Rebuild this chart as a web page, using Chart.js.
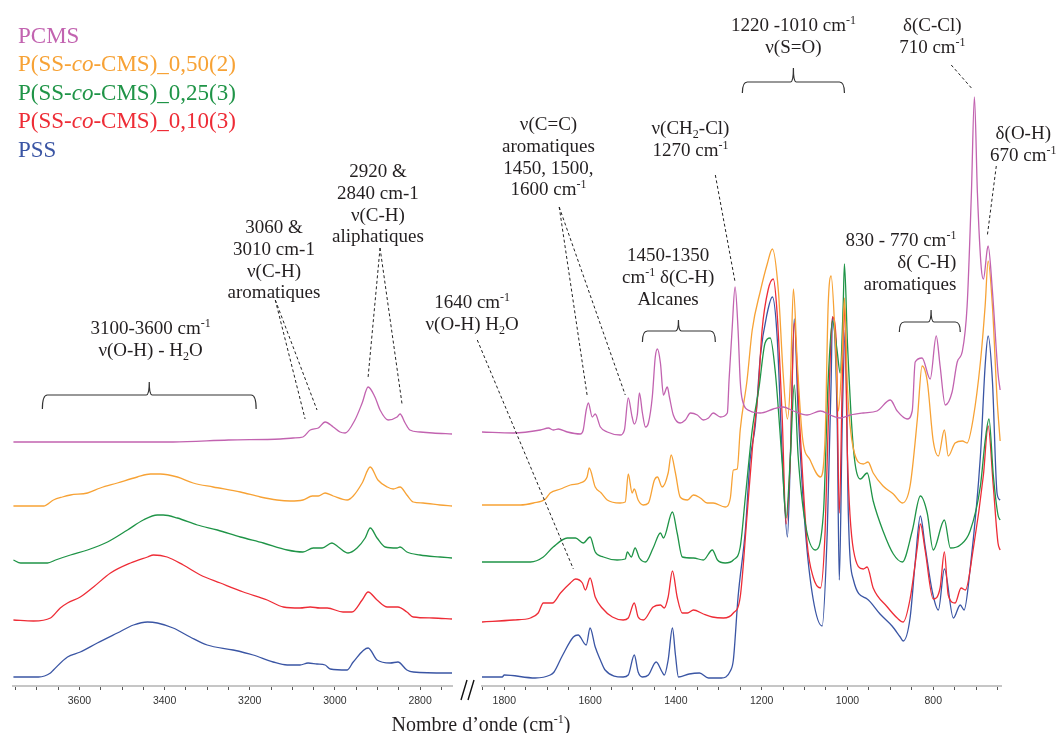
<!DOCTYPE html>
<html><head><meta charset="utf-8">
<script src="https://cdn.jsdelivr.net/npm/chart.js@4.4.0/dist/chart.umd.min.js"></script>
<style>html,body{margin:0;padding:0;background:#fff;}#wrap{position:relative;width:1056px;height:733px;}canvas{position:absolute;left:0;top:0;}</style>
</head><body><div id="wrap"><canvas id="cL" width="1056" height="733"></canvas><canvas id="cR" width="1056" height="733"></canvas></div>
<script>
// ---------- data ----------
const seriesNames = ['PCMS','P(SS-*co*-CMS)_0,50(2)','P(SS-*co*-CMS)_0,25(3)','P(SS-*co*-CMS)_0,10(3)','PSS'];
const seriesColors = ['#c263b0','#f7a235','#1f9447','#ee2c36','#3a55a4'];
const leftTickLabels = [3600,3400,3200,3000,2800];
const rightTickLabels = [1800,1600,1400,1200,1000,800];
const minorStep = 50;
const leftRange = [2725, 3756];
const rightRange = [642, 1852];
const yRange = [0, 6.86];
const xTitle = "Nombre d\u2019onde (cm^{-1})";

// wavenumber (cm-1), stacked absorbance (a.u.)
const pcmsL = [[3755,2.44],[3600,2.44],[3380,2.44],[3250,2.46],[3128,2.47],[3098,2.48],[3075,2.49],[3058,2.56],[3039,2.58],[3023,2.64],[3004,2.59],[2988,2.54],[2976,2.53],[2953,2.66],[2936,2.83],[2922,2.99],[2906,2.89],[2894,2.76],[2875,2.66],[2854,2.69],[2847,2.72],[2835,2.63],[2824,2.56],[2800,2.54],[2770,2.53],[2725,2.52]];
const orangeL = [[3755,1.80],[3684,1.80],[3661,1.86],[3640,1.89],[3621,1.91],[3581,1.93],[3551,1.98],[3511,2.03],[3464,2.09],[3433,2.12],[3410,2.12],[3370,2.09],[3333,2.03],[3286,1.99],[3222,1.94],[3175,1.89],[3136,1.86],[3105,1.85],[3075,1.86],[3053,1.90],[3039,1.90],[3023,1.93],[3004,1.90],[2971,1.86],[2957,1.90],[2936,2.03],[2917,2.19],[2899,2.06],[2877,1.99],[2863,1.97],[2847,1.99],[2831,1.91],[2816,1.84],[2793,1.83],[2753,1.81],[2725,1.80]];
const greenL = [[3755,1.26],[3738,1.23],[3675,1.23],[3656,1.26],[3621,1.31],[3581,1.36],[3534,1.44],[3487,1.56],[3450,1.66],[3417,1.71],[3403,1.71],[3370,1.68],[3323,1.61],[3276,1.56],[3222,1.49],[3168,1.43],[3112,1.36],[3075,1.34],[3051,1.38],[3030,1.38],[3007,1.43],[2992,1.39],[2969,1.33],[2948,1.38],[2929,1.48],[2917,1.58],[2901,1.48],[2882,1.39],[2854,1.38],[2847,1.39],[2831,1.34],[2800,1.31],[2753,1.29],[2725,1.28]];
const redL = [[3755,0.66],[3708,0.65],[3668,0.68],[3645,0.78],[3628,0.83],[3598,0.89],[3567,0.99],[3527,1.13],[3480,1.23],[3440,1.29],[3426,1.31],[3394,1.29],[3356,1.21],[3316,1.11],[3269,1.03],[3215,0.94],[3159,0.86],[3121,0.79],[3082,0.78],[3058,0.79],[3035,0.78],[3018,0.78],[2981,0.74],[2960,0.74],[2936,0.86],[2922,0.94],[2901,0.86],[2877,0.79],[2852,0.79],[2831,0.74],[2816,0.69],[2770,0.68],[2725,0.67]];
const blueL = [[3755,0.09],[3696,0.09],[3668,0.13],[3661,0.16],[3628,0.29],[3598,0.34],[3558,0.43],[3511,0.53],[3473,0.61],[3440,0.64],[3417,0.63],[3380,0.58],[3340,0.49],[3300,0.41],[3239,0.36],[3192,0.31],[3145,0.24],[3112,0.21],[3082,0.21],[3063,0.23],[3042,0.22],[3023,0.21],[3011,0.17],[2971,0.16],[2957,0.24],[2922,0.38],[2901,0.26],[2870,0.23],[2852,0.24],[2831,0.16],[2816,0.14],[2737,0.13],[2725,0.13]];

const pcmsR = [[1852,2.54],[1779,2.53],[1716,2.56],[1697,2.58],[1686,2.56],[1674,2.57],[1653,2.54],[1623,2.52],[1616,2.56],[1609,2.76],[1604,2.83],[1595,2.69],[1588,2.72],[1576,2.59],[1560,2.54],[1530,2.51],[1520,2.56],[1511,2.88],[1502,2.69],[1497,2.62],[1490,2.71],[1485,2.93],[1478,2.73],[1471,2.59],[1464,2.63],[1455,2.89],[1448,3.29],[1443,3.37],[1436,3.23],[1429,2.91],[1420,2.99],[1415,2.89],[1406,2.71],[1390,2.63],[1378,2.66],[1366,2.73],[1350,2.71],[1336,2.66],[1324,2.68],[1313,2.73],[1296,2.69],[1280,2.73],[1276,3.06],[1269,3.56],[1262,3.99],[1255,3.56],[1250,3.05],[1245,2.86],[1227,2.75],[1203,2.73],[1173,2.77],[1150,2.79],[1126,2.75],[1094,2.71],[1063,2.75],[1040,2.71],[1017,2.68],[993,2.71],[963,2.73],[931,2.75],[900,2.86],[884,2.75],[861,2.67],[849,2.75],[842,3.24],[826,3.28],[807,3.07],[793,3.50],[784,3.20],[772,2.81],[756,2.94],[744,3.24],[732,3.35],[721,3.80],[711,4.93],[704,5.89],[697,4.93],[688,4.18],[683,4.07],[674,4.37],[672,4.40],[662,3.95],[649,3.13],[644,2.96]];
const orangeR = [[1852,1.81],[1763,1.81],[1732,1.83],[1704,1.87],[1693,1.93],[1669,1.97],[1646,2.01],[1623,2.03],[1607,2.09],[1602,2.18],[1588,1.99],[1574,1.93],[1560,1.86],[1530,1.83],[1518,1.84],[1511,2.12],[1502,1.93],[1497,1.97],[1488,1.86],[1476,1.81],[1464,1.83],[1450,2.06],[1443,2.09],[1432,1.99],[1418,2.13],[1411,2.31],[1401,2.13],[1390,1.89],[1373,1.86],[1359,1.91],[1343,1.88],[1327,1.83],[1313,1.83],[1285,1.79],[1273,1.88],[1266,2.16],[1257,2.17],[1250,2.56],[1234,3.06],[1222,3.56],[1203,3.95],[1187,4.22],[1175,4.37],[1161,3.95],[1150,3.13],[1140,2.67],[1133,3.05],[1126,3.97],[1117,3.24],[1105,2.49],[1087,2.26],[1063,2.09],[1052,2.49],[1045,3.80],[1038,4.10],[1028,3.43],[1021,2.75],[1012,3.35],[1007,3.88],[1000,2.98],[986,2.37],[963,2.22],[952,2.24],[940,2.13],[917,2.00],[893,1.92],[872,1.83],[854,2.00],[837,2.67],[826,3.20],[814,3.05],[800,2.45],[788,2.30],[774,2.56],[765,2.30],[749,2.43],[732,2.45],[721,2.43],[707,2.67],[690,3.24],[679,3.80],[672,4.25],[662,3.80],[651,2.86],[644,2.45]];
const greenR = [[1852,1.24],[1739,1.24],[1709,1.29],[1686,1.39],[1653,1.48],[1634,1.48],[1616,1.43],[1600,1.49],[1588,1.34],[1569,1.29],[1537,1.26],[1518,1.27],[1513,1.34],[1504,1.29],[1495,1.38],[1485,1.28],[1471,1.24],[1453,1.38],[1436,1.53],[1429,1.48],[1408,1.74],[1397,1.53],[1385,1.29],[1359,1.28],[1336,1.26],[1315,1.36],[1303,1.26],[1285,1.23],[1266,1.26],[1250,1.39],[1238,1.89],[1222,2.56],[1206,2.99],[1192,3.43],[1180,3.48],[1168,3.13],[1152,2.22],[1143,1.68],[1133,2.30],[1124,3.01],[1115,2.30],[1098,1.62],[1075,1.36],[1056,1.73],[1045,3.05],[1035,3.65],[1024,3.35],[1017,3.13],[1010,3.80],[1007,4.22],[1000,3.43],[986,2.37],[970,2.07],[954,2.13],[940,1.85],[917,1.55],[893,1.32],[872,1.24],[849,1.55],[830,1.90],[814,1.73],[800,1.36],[774,1.66],[760,1.38],[737,1.41],[714,1.55],[690,2.00],[679,2.45],[670,2.67],[660,2.11],[649,1.71],[644,1.66]];
const redR = [[1852,0.64],[1779,0.66],[1739,0.68],[1721,0.73],[1709,0.83],[1688,0.83],[1669,0.93],[1646,1.03],[1634,1.07],[1618,1.03],[1611,0.96],[1600,1.08],[1588,0.89],[1572,0.78],[1548,0.69],[1523,0.66],[1511,0.68],[1497,0.83],[1488,0.69],[1476,0.66],[1453,0.79],[1436,0.81],[1427,0.78],[1418,0.89],[1408,1.15],[1397,0.89],[1385,0.73],[1373,0.73],[1359,0.76],[1336,0.72],[1315,0.69],[1289,0.68],[1266,0.73],[1250,0.89],[1234,1.71],[1220,2.46],[1208,2.96],[1199,3.56],[1185,3.96],[1173,4.07],[1164,3.73],[1152,2.67],[1143,1.62],[1133,2.30],[1124,3.63],[1112,2.67],[1094,1.43],[1080,1.09],[1063,0.98],[1052,1.55],[1042,3.05],[1035,3.69],[1026,3.43],[1019,1.73],[1012,3.05],[1007,3.84],[1000,2.30],[986,1.36],[963,1.17],[954,1.19],[940,0.98],[907,0.79],[884,0.68],[870,0.64],[854,0.87],[837,1.39],[830,1.62],[819,1.36],[800,0.87],[784,0.98],[774,1.34],[765,0.91],[749,0.83],[735,0.98],[725,0.96],[707,1.36],[683,2.11],[672,2.60],[660,2.00],[649,1.43],[644,1.36]];
const blueR = [[1852,0.09],[1805,0.09],[1800,0.11],[1728,0.08],[1693,0.11],[1684,0.14],[1665,0.30],[1639,0.49],[1628,0.51],[1609,0.41],[1600,0.58],[1588,0.39],[1576,0.26],[1565,0.16],[1523,0.09],[1511,0.11],[1497,0.31],[1488,0.14],[1478,0.09],[1464,0.11],[1446,0.24],[1432,0.14],[1427,0.11],[1418,0.26],[1408,0.58],[1401,0.31],[1394,0.09],[1369,0.12],[1345,0.13],[1324,0.08],[1294,0.08],[1273,0.15],[1266,0.26],[1255,0.89],[1238,1.56],[1227,2.26],[1215,2.60],[1203,3.30],[1187,3.73],[1175,3.89],[1164,3.50],[1152,2.30],[1140,1.49],[1133,2.30],[1124,3.67],[1115,2.75],[1098,1.55],[1080,0.87],[1059,0.60],[1047,1.55],[1038,3.05],[1035,3.69],[1024,2.67],[1019,1.06],[1012,2.67],[1005,3.56],[998,1.73],[986,1.06],[954,0.87],[924,0.72],[896,0.60],[877,0.49],[870,0.45],[854,0.68],[842,1.24],[830,1.70],[819,1.40],[802,0.94],[788,0.76],[774,1.17],[753,0.68],[737,0.81],[728,0.76],[714,1.17],[690,2.30],[679,3.20],[672,3.50],[662,3.05],[651,1.92],[644,1.86]];

// annotations (cm-1, a.u.)
const notes = [
 {p:'L', x:3433, y:3.58, lines:['3100-3600 cm^{-1}','\u03bd(O-H) - H~{2}O']},
 {p:'L', x:3143, y:4.59, lines:['3060 &','3010 cm-1','\u03bd(C-H)','aromatiques']},
 {p:'L', x:2899, y:5.15, lines:['2920 &','2840 cm-1','\u03bd(C-H)','aliphatiques']},
 {p:'R', x:1875, y:3.84, lines:['1640 cm^{-1}','\u03bd(O-H) H~{2}O']},
 {p:'R', x:1697, y:5.62, lines:['\u03bd(C=C)','aromatiques','1450, 1500,','1600 cm^{-1}']},
 {p:'R', x:1366, y:5.58, lines:['\u03bd(CH~{2}-Cl)','1270 cm^{-1}']},
 {p:'R', x:1418, y:4.31, lines:['1450-1350','cm^{-1} \u03b4(C-H)','Alcanes']},
 {p:'R', x:1126, y:6.61, lines:['1220 -1010 cm^{-1}','\u03bd(S=O)']},
 {p:'R', x:802, y:6.61, lines:['\u03b4(C-Cl)','710 cm^{-1}']},
 {p:'R', x:590, y:5.53, lines:['\u03b4(O-H)','670 cm^{-1}']},
 {p:'R', x:746, y:4.46, lines:['830 - 770 cm^{-1}','\u03b4( C-H)','aromatiques'], align:'right'}
];
const brackets = [
 {p:'L', x1:3687, x2:3185, xt:3436, yH:2.91, yE:2.77, yT:3.04},
 {p:'R', x1:1478, x2:1308, xt:1394, yH:3.55, yE:3.44, yT:3.66},
 {p:'R', x1:1245, x2:1007, xt:1126, yH:6.04, yE:5.93, yT:6.18},
 {p:'R', x1:879, x2:737, xt:805, yH:3.64, yE:3.54, yT:3.76}
];
const leaders = [
 {p:'L', a:[3140,3.86], b:[3070,2.67]}, {p:'L', a:[3140,3.86], b:[3042,2.76]},
 {p:'L', a:[2894,4.38], b:[2922,3.09]}, {p:'L', a:[2894,4.38], b:[2842,2.81]},
 {p:'R', a:[1863,3.46], b:[1639,1.17]},
 {p:'R', a:[1672,4.79], b:[1607,2.91]}, {p:'R', a:[1672,4.79], b:[1518,2.91]},
 {p:'R', a:[1308,5.11], b:[1262,4.04]},
 {p:'R', a:[758,6.21], b:[711,5.98]},
 {p:'R', a:[653,5.20], b:[674,4.50]}
];

// ---------- helpers ----------
const SERIF = '"Liberation Serif","Times New Roman",serif';
function parse(s){const out=[];const re=/\^\{([^}]*)\}|~\{([^}]*)\}|\*([^*]*)\*|([^\^~*]+)/g;let m;
 while((m=re.exec(s))){ if(m[1]!==undefined) out.push([m[1],'sup']); else if(m[2]!==undefined) out.push([m[2],'sub']); else if(m[3]!==undefined) out.push([m[3],'it']); else out.push([m[4],'']); } return out;}
function rich(ctx, s, x, yc, size, align, color){
 const parts=parse(s);
 const f=st=>(st==='it'?'italic ':'')+((st==='sup'||st==='sub')?Math.round(size*0.62):size)+'px '+SERIF;
 let w=0; parts.forEach(p=>{ctx.font=f(p[1]);w+=ctx.measureText(p[0]).width;});
 let cx = align==='center'? x-w/2 : align==='right'? x-w : x;
 const base = yc + size*0.33;
 ctx.fillStyle=color; ctx.textAlign='left'; ctx.textBaseline='alphabetic';
 parts.forEach(p=>{ctx.font=f(p[1]); const dy=p[1]==='sup'?-size*0.38:p[1]==='sub'?size*0.2:0; ctx.fillText(p[0],cx,base+dy); cx+=ctx.measureText(p[0]).width;});
}

function cfg(range, labeled, sets, padL, padR, plugins){
 return {
  type:'line',
  data:{datasets:sets.map((d,i)=>({label:seriesNames[i], data:d.map(p=>({x:p[0],y:p[1]})), borderColor:seriesColors[i], borderWidth:1.3, pointRadius:0, cubicInterpolationMode:'monotone', fill:false}))},
  options:{
   responsive:false, animation:false, devicePixelRatio:1, events:[],
   layout:{padding:{left:padL,right:padR,top:0,bottom:0}},
   plugins:{legend:{display:false}, tooltip:{enabled:false}},
   scales:{
    x:{type:'linear', reverse:true, min:range[0], max:range[1],
     afterBuildTicks:ax=>{const t=[];for(let v=Math.ceil(range[0]/minorStep)*minorStep;v<=range[1];v+=minorStep)t.push({value:v});ax.ticks=t;},
     afterFit:ax=>{ax.height=47;},
     ticks:{autoSkip:false, maxRotation:0, minRotation:0, padding:5, color:'#333', font:{family:'"Liberation Sans",Arial,sans-serif', size:10.5}, callback:v=>labeled.includes(v)?String(v):''},
     grid:{drawOnChartArea:false, drawTicks:true, tickLength:4, tickColor:'#555', tickWidth:1},
     border:{display:true, color:'#c6c6c6', width:2}},
    y:{display:false, min:yRange[0], max:yRange[1]}
   }
  },
  plugins
 };
}

const leftChart = new Chart(document.getElementById('cL'), cfg(leftRange, leftTickLabels, [pcmsL,orangeL,greenL,redL,blueL], 13, 604, []));

const annot = {
 id:'annot',
 afterDraw(chart){
  const ctx=chart.ctx; const Y=v=>chart.scales.y.getPixelForValue(v);
  const X=(p,v)=>(p==='L'?leftChart:chart).scales.x.getPixelForValue(v);
  ctx.save();
  // legend
  const legY=[35,63.5,92,120.5,149.5];
  seriesNames.forEach((n,i)=>rich(ctx,n,18,legY[i],23,'left',seriesColors[i]));
  // notes
  const size=19, lh=0.217;
  notes.forEach(n=>{ n.lines.forEach((l,k)=>rich(ctx,l,X(n.p,n.x),Y(n.y-k*lh),size,n.align||'center','#231f20')); });
  // brackets
  ctx.strokeStyle='#333'; ctx.lineWidth=1.2; ctx.setLineDash([]);
  brackets.forEach(b=>{
   const x1=X(b.p,b.x1), x2=X(b.p,b.x2), xt=X(b.p,b.xt), yH=Y(b.yH), yE=Y(b.yE), yT=Y(b.yT);
   ctx.beginPath(); ctx.moveTo(x1,yE); ctx.quadraticCurveTo(x1,yH,x1+5,yH); ctx.lineTo(xt-3,yH);
   ctx.quadraticCurveTo(xt,yH,xt,yT); ctx.moveTo(xt,yT); ctx.quadraticCurveTo(xt,yH,xt+3,yH);
   ctx.lineTo(x2-5,yH); ctx.quadraticCurveTo(x2,yH,x2,yE); ctx.stroke();
  });
  // leader lines
  ctx.strokeStyle='#222'; ctx.lineWidth=1; ctx.setLineDash([3,2.5]);
  leaders.forEach(l=>{ctx.beginPath();ctx.moveTo(X(l.p,l.a[0]),Y(l.a[1]));ctx.lineTo(X(l.p,l.b[0]),Y(l.b[1]));ctx.stroke();});
  ctx.setLineDash([]);
  // axis break mark
  const yb=chart.chartArea.bottom;
  ctx.strokeStyle='#111'; ctx.lineWidth=1.4;
  ctx.beginPath(); ctx.moveTo(461,yb+14); ctx.lineTo(467,yb-6); ctx.moveTo(468,yb+14); ctx.lineTo(474,yb-6); ctx.stroke();
  // x title
  const L=leftChart.chartArea.left, R=chart.chartArea.right;
  rich(ctx,xTitle,(L+R)/2-26,724,20,'center','#231f20');
  ctx.restore();
 }
};
const rightChart = new Chart(document.getElementById('cR'), cfg(rightRange, rightTickLabels, [pcmsR,orangeR,greenR,redR,blueR], 482, 55, [annot]));
</script></body></html>
